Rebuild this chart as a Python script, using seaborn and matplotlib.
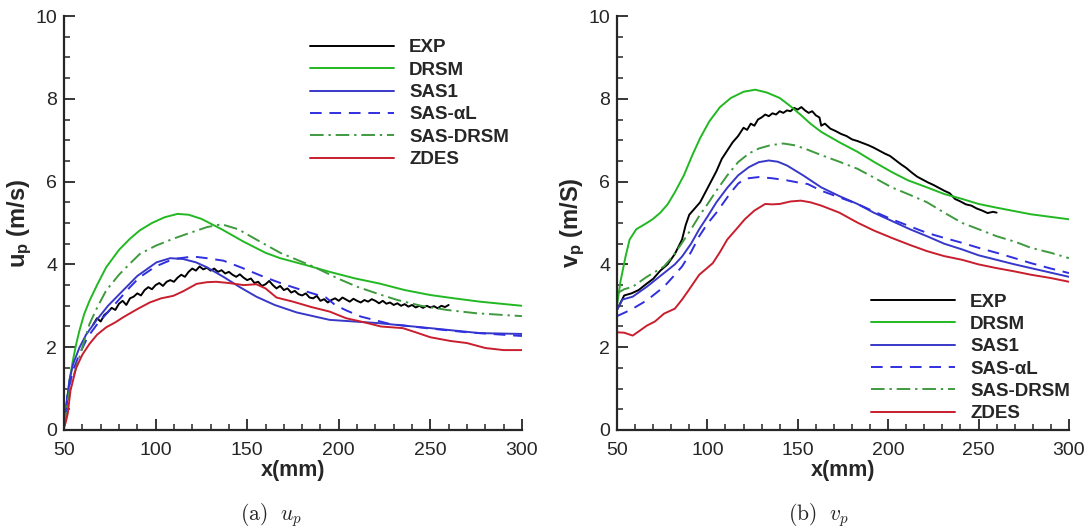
import numpy as np
import pandas as pd
import matplotlib
matplotlib.use("Agg")
import matplotlib.pyplot as plt
import seaborn as sns
from matplotlib.ticker import MultipleLocator

# ---- u_p (left panel) ----
u_exp_x = [66, 68, 70, 72, 74, 76, 78, 80, 82, 84, 86, 88, 90, 92, 94, 96, 98, 100, 102, 104,
           106, 108, 110, 112, 114, 116, 118, 120, 122, 124, 126, 128, 130, 132, 134, 136, 138, 140,
           142, 144, 146, 148, 150, 152, 154, 156, 158, 160, 162, 164, 166, 168, 170, 172, 174, 176,
           178, 180, 182, 184, 186, 188, 190, 192, 194, 196, 198, 200, 202, 204, 206, 208, 210, 212,
           214, 216, 218, 220, 222, 224, 226, 228, 230, 232, 234, 236, 238, 240, 242, 244, 246, 248,
           250, 252, 254, 256, 258, 260]
u_exp_y = [2.55, 2.70, 2.62, 2.78, 2.85, 2.95, 2.90, 3.05, 3.12, 3.02, 3.18, 3.22, 3.30, 3.25, 3.38, 3.45, 3.40, 3.50, 3.55, 3.48,
           3.58, 3.62, 3.58, 3.68, 3.75, 3.70, 3.82, 3.90, 3.85, 3.95, 3.88, 3.92, 3.85, 3.90, 3.82, 3.86, 3.78, 3.82,
           3.75, 3.70, 3.76, 3.68, 3.62, 3.66, 3.55, 3.58, 3.48, 3.52, 3.60, 3.50, 3.42, 3.48, 3.38, 3.42, 3.32, 3.36,
           3.28, 3.25, 3.30, 3.20, 3.18, 3.24, 3.12, 3.16, 3.08, 3.14, 3.18, 3.12, 3.20, 3.15, 3.10, 3.17, 3.12, 3.08,
           3.14, 3.10, 3.16, 3.12, 3.06, 3.12, 3.05, 3.08, 3.02, 3.06, 3.00, 3.04, 2.98, 3.02, 2.96, 3.00, 2.95, 3.00,
           2.96, 2.99, 2.94, 3.00, 2.97, 3.02]

u_drsm_x = [50, 51, 52, 53, 54.8, 56.5, 58.4, 61, 63.9, 68, 73, 80, 86, 91.3, 98, 105, 112, 118, 125, 136,
            148, 160, 168, 181.5, 195, 209, 222, 236, 250, 263, 277, 300]
u_drsm_y = [0.1, 0.45, 0.87, 1.2, 1.67, 2.05, 2.4, 2.8, 3.12, 3.5, 3.93, 4.35, 4.62, 4.82, 5.0, 5.14, 5.22, 5.2, 5.1, 4.85,
            4.55, 4.28, 4.15, 3.99, 3.82, 3.66, 3.54, 3.38, 3.26, 3.18, 3.1, 3.0]

u_sas1_x = [50, 51, 52.9, 55, 58.4, 62, 67.5, 74, 82.2, 90, 100.5, 108, 115, 122, 128, 137, 146, 155, 165,
            177, 195, 222, 250, 277, 300]
u_sas1_y = [0.1, 0.45, 1.19, 1.6, 1.99, 2.3, 2.64, 3.0, 3.37, 3.72, 4.05, 4.15, 4.13, 4.05, 3.93, 3.7, 3.45, 3.22, 3.02,
            2.84, 2.66, 2.58, 2.46, 2.34, 2.32]

u_sasal_x = [50, 52, 55, 58.4, 63, 68, 73, 80, 86, 91.3, 100, 109.6, 120.5, 128, 137, 147, 159, 170, 182,
             193, 198, 204, 212, 228, 250, 270, 300]
u_sasal_y = [0.1, 0.9, 1.45, 1.83, 2.25, 2.55, 2.8, 3.15, 3.45, 3.69, 3.95, 4.13, 4.19, 4.15, 4.09, 3.92, 3.7, 3.52, 3.35,
             3.2, 3.02, 2.89, 2.74, 2.56, 2.45, 2.36, 2.27]

u_sasdrsm_x = [50, 52, 54, 56.6, 60, 63.9, 68, 73, 80, 86, 91.3, 100, 109.6, 118, 128, 136, 145, 155, 168,
               186, 200, 210, 222, 232, 245, 259, 275, 300]
u_sasdrsm_y = [0.1, 0.7, 1.15, 1.5, 2.0, 2.56, 2.95, 3.37, 3.75, 4.02, 4.25, 4.45, 4.62, 4.75, 4.9, 4.97, 4.85, 4.6, 4.28,
               3.95, 3.65, 3.46, 3.28, 3.14, 3.0, 2.9, 2.82, 2.75]

u_zdes_x = [50, 51, 52, 53.5, 56.6, 60, 63.9, 68, 73, 78, 82.2, 90, 96.8, 103, 109.6, 115, 122.4, 128, 133,
            140, 148, 155, 160, 166, 175, 185, 195, 204, 214, 223, 235, 242, 250, 261, 270, 280, 290, 300]
u_zdes_y = [0.05, 0.2, 0.39, 0.95, 1.5, 1.82, 2.08, 2.3, 2.48, 2.6, 2.72, 2.92, 3.08, 3.18, 3.24, 3.35, 3.53, 3.57, 3.58,
            3.55, 3.5, 3.52, 3.42, 3.2, 3.1, 2.97, 2.86, 2.7, 2.6, 2.5, 2.46, 2.36, 2.24, 2.15, 2.1, 1.98, 1.93, 1.93]

# ---- v_p (right panel) ----
v_exp_x = [50, 54, 58, 62, 66, 70, 74, 78, 82, 86, 88, 90, 93, 96, 99, 102, 105, 108, 111, 114,
           117, 120, 122, 124, 126, 128, 130, 132, 134, 136, 138, 140, 142, 144, 146, 148, 150, 152, 154,
           156, 158, 160, 162, 163, 165, 168, 171, 174, 177, 180, 183, 186, 189, 192, 195, 198, 201, 204,
           207, 210, 213, 216, 219, 222, 225, 228, 231, 234, 237, 240, 243, 246, 249, 252, 255, 258, 260]
v_exp_y = [2.9, 3.25, 3.3, 3.38, 3.52, 3.65, 3.85, 4.0, 4.25, 4.6, 4.95, 5.2, 5.35, 5.5, 5.75, 6.0, 6.25, 6.55, 6.75, 6.95,
           7.1, 7.3, 7.25, 7.4, 7.35, 7.5, 7.55, 7.62, 7.58, 7.65, 7.62, 7.7, 7.66, 7.72, 7.7, 7.78, 7.74, 7.8, 7.72,
           7.66, 7.7, 7.6, 7.55, 7.35, 7.4, 7.28, 7.22, 7.15, 7.1, 7.02, 6.98, 6.93, 6.88, 6.82, 6.75, 6.68, 6.62, 6.52,
           6.42, 6.33, 6.22, 6.12, 6.05, 5.98, 5.92, 5.85, 5.78, 5.72, 5.58, 5.52, 5.45, 5.42, 5.35, 5.3, 5.24, 5.27, 5.25]

v_drsm_x = [50, 52, 54.8, 57, 60.7, 66.5, 70, 74, 78, 82, 87, 91.7, 96, 101, 107, 113, 120, 126.5, 133, 140,
            146, 151.7, 157, 163, 173, 183, 192, 202, 211, 221.5, 231, 241, 250, 260, 279, 300]
v_drsm_y = [3.0, 3.6, 4.2, 4.6, 4.85, 5.0, 5.1, 5.25, 5.45, 5.74, 6.15, 6.64, 7.05, 7.45, 7.8, 8.02, 8.17, 8.22, 8.15, 8.02,
            7.82, 7.61, 7.4, 7.2, 6.95, 6.72, 6.48, 6.23, 6.03, 5.86, 5.7, 5.58, 5.46, 5.37, 5.21, 5.09]

v_sas1_x = [50, 53, 58.7, 66.5, 76, 82, 86, 91, 95.5, 100, 105, 111, 117, 123, 128.5, 134, 139, 144, 153, 163,
            173, 183, 192, 202, 212, 221.5, 231, 241, 250, 260, 270, 279, 290, 300]
v_sas1_y = [2.9, 3.15, 3.22, 3.46, 3.79, 4.0, 4.19, 4.5, 4.85, 5.15, 5.5, 5.85, 6.15, 6.35, 6.47, 6.51, 6.48, 6.39, 6.15, 5.86,
            5.65, 5.46, 5.25, 5.05, 4.85, 4.68, 4.5, 4.36, 4.22, 4.11, 4.0, 3.91, 3.8, 3.7]

v_sasal_x = [50, 55, 58.7, 66.5, 76, 81, 86, 91, 95.5, 100, 105, 113, 117, 120.7, 128.5, 136, 144, 150, 155.6, 163,
             173, 183, 192, 202, 212, 221.5, 231, 241, 250, 260, 270, 279, 290, 300]
v_sasal_y = [2.75, 2.85, 2.93, 3.13, 3.46, 3.7, 3.95, 4.3, 4.68, 4.98, 5.25, 5.74, 5.95, 6.07, 6.11, 6.08, 6.03, 5.98, 5.94, 5.78,
             5.62, 5.46, 5.28, 5.09, 4.92, 4.76, 4.64, 4.52, 4.4, 4.28, 4.15, 4.03, 3.9, 3.79]

v_sasdrsm_x = [50, 54, 58.7, 66.5, 76, 81, 86, 91, 95.5, 100, 105, 111, 117, 123, 128.5, 135, 142, 148, 153.7, 163,
               173, 183, 192, 202, 212, 221.5, 231, 241, 250, 260, 270, 279, 290, 300]
v_sasdrsm_y = [3.3, 3.4, 3.46, 3.7, 3.95, 4.2, 4.52, 4.85, 5.17, 5.45, 5.78, 6.15, 6.47, 6.68, 6.8, 6.88, 6.92, 6.88, 6.8, 6.64,
               6.48, 6.31, 6.1, 5.86, 5.68, 5.5, 5.25, 5.0, 4.85, 4.68, 4.55, 4.4, 4.28, 4.15]

v_zdes_x = [50, 54, 58.7, 62, 66.5, 71, 76, 82, 86, 89.7, 95.5, 99, 103, 107, 111, 116, 120.7, 126, 132, 136,
            140, 146, 151.7, 157, 163, 173, 183, 192, 202, 212, 221.5, 231, 241, 250, 260, 270, 279, 290, 300]
v_zdes_y = [2.36, 2.35, 2.28, 2.38, 2.52, 2.62, 2.81, 2.93, 3.15, 3.38, 3.75, 3.88, 4.03, 4.3, 4.6, 4.85, 5.09, 5.3, 5.46, 5.45,
            5.46, 5.52, 5.54, 5.5, 5.42, 5.25, 5.01, 4.82, 4.64, 4.47, 4.32, 4.2, 4.11, 4.0, 3.91, 3.83, 3.75, 3.67, 3.58]

labels = ["EXP", "DRSM", "SAS1", "SAS-αL", "SAS-DRSM", "ZDES"]
colors = ["black", "#22b822", "#3838c8", "#2f2fe0", "#3f9a3f", "#c81e2d"]
styles = ["-", "-", "-", (0, (6, 4)), (0, (7, 2.5, 1.2, 2.5)), "-"]

u_series = [(u_exp_x, u_exp_y), (u_drsm_x, u_drsm_y), (u_sas1_x, u_sas1_y),
            (u_sasal_x, u_sasal_y), (u_sasdrsm_x, u_sasdrsm_y), (u_zdes_x, u_zdes_y)]
v_series = [(v_exp_x, v_exp_y), (v_drsm_x, v_drsm_y), (v_sas1_x, v_sas1_y),
            (v_sasal_x, v_sasal_y), (v_sasdrsm_x, v_sasdrsm_y), (v_zdes_x, v_zdes_y)]

sns.set_style("ticks")
plt.rcParams["font.family"] = ["Liberation Sans", "DejaVu Sans"]
plt.rcParams["mathtext.fontset"] = "custom"
plt.rcParams["mathtext.rm"] = "Liberation Sans"
plt.rcParams["mathtext.bf"] = "Liberation Sans:bold"
plt.rcParams["mathtext.it"] = "Liberation Sans:italic"

fig = plt.figure(figsize=(10.91, 5.30), dpi=100)
ax1 = fig.add_axes([0.0587, 0.1887, 0.4197, 0.7811])
ax2 = fig.add_axes([0.5655, 0.1887, 0.4143, 0.7811])


def draw(ax, series, ylab, leg_anchor):
    for (xs, ys), lab, c, ls in zip(series, labels, colors, styles):
        df = pd.DataFrame({"x": xs, "y": ys})
        sns.lineplot(data=df, x="x", y="y", ax=ax, color=c, linestyle=ls,
                     linewidth=1.4, label=lab, sort=False)
    ax.set_xlim(50, 300)
    ax.set_ylim(0, 10)
    ax.xaxis.set_major_locator(MultipleLocator(50))
    ax.xaxis.set_minor_locator(MultipleLocator(10))
    ax.yaxis.set_major_locator(MultipleLocator(2))
    ax.yaxis.set_minor_locator(MultipleLocator(0.5))
    ax.tick_params(which="major", direction="in", length=8, width=1.3, labelsize=14)
    ax.tick_params(axis="x", which="major", pad=8.5)
    ax.tick_params(axis="y", which="major", pad=5)
    ax.tick_params(which="minor", direction="in", length=4.5, width=1.1)
    for s in ["top", "right"]:
        ax.spines[s].set_visible(False)
    for s in ["left", "bottom"]:
        ax.spines[s].set_linewidth(1.6)
    ax.set_xlabel("x(mm)", fontsize=15.5, fontweight="bold", labelpad=1)
    ax.set_ylabel(ylab, fontsize=17, fontweight="bold", labelpad=1)
    ax.legend(loc="upper left", bbox_to_anchor=leg_anchor, frameon=False,
              prop={"weight": "bold", "size": 13.5}, handlelength=4.5,
              handletextpad=0.8, labelspacing=0.28, borderaxespad=0)


draw(ax1, u_series, r"$\mathbf{u_p}$ (m/s)", (0.52, 0.962))
draw(ax2, v_series, r"$\mathbf{v_p}$ (m/S)", (0.545, 0.348))

fig.text(271 / 1091, 1 - 515 / 530, r"$\mathrm{(a)}\ \ u_p$", math_fontfamily="cm",
         fontsize=15.5, ha="center", va="center")
fig.text(819 / 1091, 1 - 515 / 530, r"$\mathrm{(b)}\ \ v_p$", math_fontfamily="cm",
         fontsize=15.5, ha="center", va="center")

fig.savefig("out.png", dpi=100)
